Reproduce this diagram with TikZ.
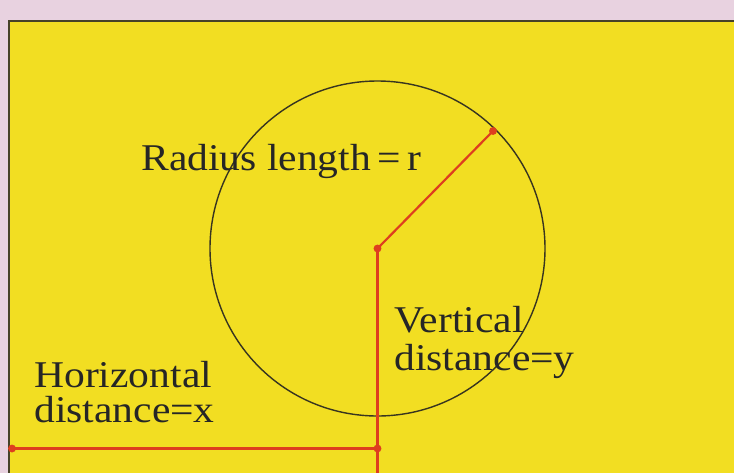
\documentclass[tikz,border=0pt]{standalone}
\usepackage{fontspec}
\setmainfont[FakeStretch=1.1]{Liberation Serif}
\definecolor{pagepink}{RGB}{232,210,224}
\definecolor{panelyellow}{RGB}{242,222,34}
\definecolor{linered}{RGB}{222,62,30}
\definecolor{edgegrey}{RGB}{70,66,40}
\tikzset{
  redline/.style={draw=linered, line width=1.25pt},
  reddot/.style={circle, fill=linered, inner sep=0pt, minimum size=4.5pt},
  caption/.style={align=left, inner sep=0pt, anchor=base west, text=black!85,
    font=\fontsize{21.5}{21.5}\selectfont}
}
\begin{document}
\begin{tikzpicture}
\useasboundingbox (0,0) rectangle (14.68,-9.46);
\fill[pagepink] (0,0) rectangle (14.68,-9.46);
% yellow panel
\fill[panelyellow] (0.18,-0.42) rectangle (14.68,-9.46);
\draw[edgegrey, line width=1pt] (0.18,-9.46) -- (0.18,-0.42) -- (14.68,-0.42);

\coordinate (centre) at (7.55,-4.97);
\coordinate (rimpt) at (9.86,-2.62);
\coordinate (foot) at (7.55,-8.97);
\coordinate (bottom) at (7.55,-9.46);
\coordinate (leftend) at (0.24,-8.97);

% circle
\draw[edgegrey!80!black, line width=0.8pt] (centre) circle (3.35);

% red lines
\draw[redline] (centre) -- (rimpt);
\draw[redline] (centre) -- (bottom);
\draw[redline] (leftend) -- (foot);
\node (c) [reddot] at (centre) {};
\node (r) [reddot] at (rimpt) {};
\node (f) [reddot] at (foot) {};
\node (l) [reddot] at (leftend) {};

% labels
\node (radlab) [caption] at (2.82,-3.4) {Radius length\,=\,r};
\node (vertlab) [caption] at (7.88,-7.4) {Vertical\\distance=y};
\node (horlab) [caption, font=\fontsize{21.5}{19.5}\selectfont] at (0.68,-8.44) {Horizontal\\distance=x};
\end{tikzpicture}
\end{document}
